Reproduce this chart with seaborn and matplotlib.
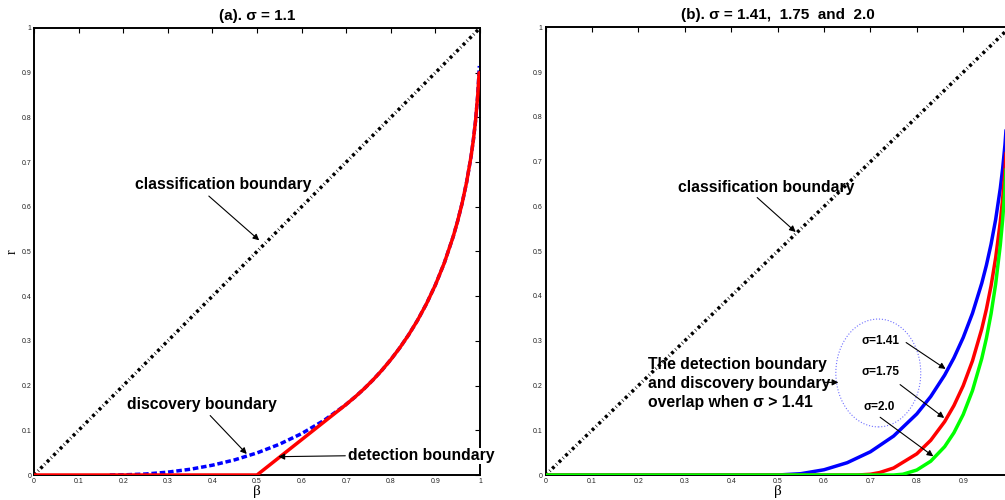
import matplotlib
matplotlib.use("Agg")
import matplotlib.pyplot as plt
from matplotlib.patches import Ellipse
import seaborn as sns
import pandas as pd

# ---------------- data ----------------
tick_values = [0, 0.1, 0.2, 0.3, 0.4, 0.5, 0.6, 0.7, 0.8, 0.9, 1.0]
tick_labels = ["0", "0.1", "0.2", "0.3", "0.4", "0.5", "0.6", "0.7", "0.8", "0.9", "1"]
# right panel: the "1" label falls outside the visible picture
tick_labels_right_x = ["0", "0.1", "0.2", "0.3", "0.4", "0.5", "0.6", "0.7", "0.8", "0.9", ""]

# classification boundary (both panels)
class_beta = [0.0, 1.0]
class_r = [0.0, 1.0]

# panel (a): sigma = 1.1
detect_beta = [0.0, 0.5, 0.55, 0.6, 0.65, 0.6975, 0.72, 0.74, 0.76, 0.78, 0.80, 0.82,
               0.84, 0.86, 0.88, 0.90, 0.92, 0.94, 0.95, 0.96, 0.97, 0.98, 0.985,
               0.99, 0.995, 0.998]
detect_r = [0.0, 0.0, 0.0395, 0.079, 0.1185, 0.156, 0.1747, 0.1928, 0.2126, 0.2343,
            0.2581, 0.2844, 0.3136, 0.3462, 0.3831, 0.4253, 0.4745, 0.5337, 0.5686,
            0.6084, 0.6552, 0.7131, 0.7487, 0.7921, 0.8505, 0.900]

discov_beta = [0.17, 0.2, 0.25, 0.30, 0.35, 0.40, 0.45, 0.50, 0.55, 0.60, 0.65, 0.6975,
               0.72, 0.74, 0.76, 0.78, 0.80, 0.82, 0.84, 0.86, 0.88, 0.90, 0.92, 0.94,
               0.95, 0.96, 0.97, 0.98, 0.985, 0.99, 0.995, 0.9985]
discov_r = [0.0, 0.0003, 0.0022, 0.0064, 0.0128, 0.0219, 0.0339, 0.0494, 0.0687, 0.0926,
            0.1220, 0.156, 0.1747, 0.1928, 0.2126, 0.2343, 0.2581, 0.2844, 0.3136,
            0.3462, 0.3831, 0.4253, 0.4745, 0.5337, 0.5686, 0.6084, 0.6552, 0.7131,
            0.7487, 0.7921, 0.8505, 0.915]

# panel (b): sigma = 1.41, 1.75, 2.0
s141_beta = [0.0, 0.5, 0.55, 0.6, 0.65, 0.7, 0.75, 0.8, 0.83, 0.86, 0.88, 0.9, 0.92,
             0.94, 0.95, 0.96, 0.97, 0.98, 0.985, 0.99, 0.995, 0.998]
s141_r = [0.0, 0.0, 0.0029, 0.0117, 0.0275, 0.0519, 0.0870, 0.1365, 0.1753, 0.2232,
          0.2617, 0.3071, 0.3614, 0.4285, 0.4688, 0.5155, 0.5712, 0.6410, 0.6845,
          0.7379, 0.8105, 0.8779]

s175_beta = [0.0, 0.673, 0.7, 0.72, 0.75, 0.8, 0.83, 0.86, 0.88, 0.9, 0.92, 0.94, 0.95,
             0.96, 0.97, 0.98, 0.985, 0.99, 0.995, 0.998]
s175_r = [0.0, 0.0, 0.0017, 0.0055, 0.0156, 0.0473, 0.0775, 0.1192, 0.1551, 0.1995,
          0.2551, 0.3264, 0.3705, 0.4225, 0.4857, 0.5663, 0.6173, 0.6806, 0.7678, 0.8496]

s200_beta = [0.0, 0.75, 0.77, 0.8, 0.83, 0.86, 0.88, 0.9, 0.92, 0.94, 0.95, 0.96, 0.97,
             0.98, 0.985, 0.99, 0.995, 0.998]
s200_r = [0.0, 0.0, 0.0017, 0.0111, 0.0308, 0.0633, 0.0944, 0.1351, 0.1886, 0.2602,
          0.3056, 0.36, 0.4272, 0.5143, 0.5701, 0.64, 0.7372, 0.8291]

# ---------------- figure ----------------
sns.set_style("white")
plt.rcParams["font.family"] = ["Liberation Sans", "DejaVu Sans"]
plt.rcParams["text.color"] = "black"
plt.rcParams["axes.labelcolor"] = "black"
plt.rcParams["xtick.color"] = "black"
plt.rcParams["ytick.color"] = "black"

W, H = 1005, 500
fig = plt.figure(figsize=(W / 100, H / 100), dpi=100)
axL = fig.add_axes([34 / W, 25 / H, 446 / W, 447 / H])
axR = fig.add_axes([545.6 / W, 25 / H, 464 / W, 447.5 / H])

diag_ls = (0, (0.85, 0.8, 0.2, 0.8))
dash_ls = (0, (1.6, 0.8))


def line(ax, xs, ys, color, lw=2.5, ls="-", z=2):
    df = pd.DataFrame({"beta": xs, "r": ys})
    sns.lineplot(data=df, x="beta", y="r", ax=ax, color=color, lw=lw, linestyle=ls,
                 estimator=None, sort=False, legend=False, zorder=z)


def arrow(ax, tail, head):
    ax.annotate("", xy=head, xytext=tail,
                arrowprops=dict(arrowstyle="-|>", lw=0.8, color="black",
                                mutation_scale=9, shrinkA=0, shrinkB=0))


# panel (a)
line(axL, class_beta, class_r, "black", lw=2.5, ls=diag_ls)
line(axL, discov_beta, discov_r, "blue", lw=2.5, ls=dash_ls, z=2)
line(axL, detect_beta, detect_r, "red", lw=2.5, z=3)

# panel (b)
line(axR, class_beta, class_r, "black", lw=2.5, ls=diag_ls)
line(axR, s141_beta, s141_r, "blue", lw=2.5, z=2)
line(axR, s175_beta, s175_r, "red", lw=2.5, z=3)
line(axR, s200_beta, s200_r, (0, 1, 0), lw=2.5, z=4)

for ax, xlabels in ((axL, tick_labels), (axR, tick_labels_right_x)):
    ax.set_xlim(0, 1)
    ax.set_ylim(0, 1)
    ax.set_xticks(tick_values)
    ax.set_xticklabels(xlabels)
    ax.set_yticks(tick_values)
    ax.set_yticklabels(tick_labels)
    ax.tick_params(direction="in", length=3.5, width=0.8, top=True, right=True,
                   labelsize=5, labelcolor="#222222", pad=2)
    for s in ax.spines.values():
        s.set_linewidth(1.4)
        s.set_color("black")
    ax.set_xlabel("β", family="Liberation Serif", fontsize=11, labelpad=0)
    ax.set_ylabel("")

axL.set_ylabel("r", family="Liberation Serif", fontsize=10, labelpad=2)

title_kw = dict(fontsize=11, fontweight="bold", pad=6)
axL.set_title("(a). σ = 1.1", **title_kw)
axR.set_title("(b). σ = 1.41,  1.75  and  2.0", **title_kw)

txt_kw = dict(fontsize=11.3, fontweight="bold", va="center", ha="left")

# annotations panel (a)
axL.text(0.226, 0.649, "classification boundary", **txt_kw)
arrow(axL, (0.392, 0.624), (0.505, 0.525))
axL.text(0.208, 0.157, "discovery boundary", **txt_kw)
arrow(axL, (0.395, 0.133), (0.477, 0.047))
axL.text(0.704, 0.043, "detection boundary",
         bbox=dict(facecolor="white", edgecolor="none", pad=0.5), zorder=5, **txt_kw)
arrow(axL, (0.698, 0.043), (0.548, 0.041))

# annotations panel (b)
axR.text(0.285, 0.643, "classification boundary", **txt_kw)
arrow(axR, (0.456, 0.620), (0.539, 0.543))
axR.text(0.2216, 0.205,
         "The detection boundary\nand discovery boundary\noverlap when σ > 1.41",
         linespacing=1.35, **txt_kw)
arrow(axR, (0.602, 0.207), (0.631, 0.207))
axR.add_patch(Ellipse((0.717, 0.228), 0.183, 0.241, fill=False, ls=":",
                      ec="#6f6fff", lw=0.8))
sig_kw = dict(fontsize=8.5, fontweight="bold", va="center", ha="left")
axR.text(0.680, 0.299, "σ=1.41", **sig_kw)
arrow(axR, (0.777, 0.296), (0.862, 0.237))
axR.text(0.680, 0.2295, "σ=1.75", **sig_kw)
arrow(axR, (0.764, 0.202), (0.859, 0.1275))
axR.text(0.685, 0.151, "σ=2.0", **sig_kw)
arrow(axR, (0.721, 0.129), (0.8356, 0.0417))

fig.savefig("out.png", dpi=100)
